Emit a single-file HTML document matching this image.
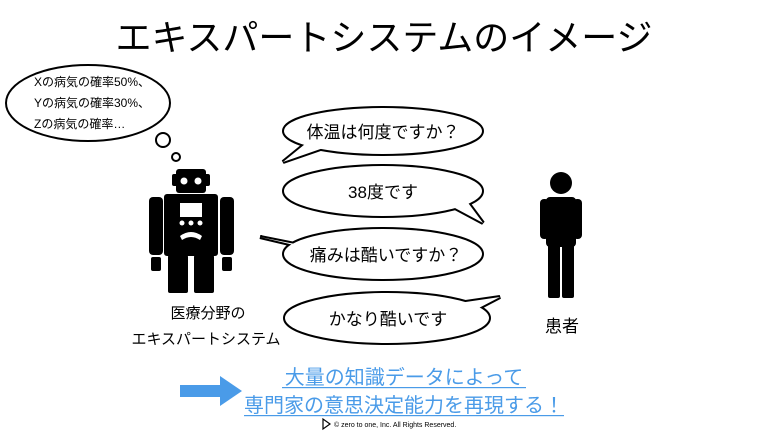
<!DOCTYPE html>
<html><head><meta charset="utf-8"><style>
html,body{margin:0;padding:0;background:#fff;}
svg{display:block;font-family:"Liberation Sans","Noto Sans CJK JP",sans-serif;}
</style></head><body>
<svg width="768" height="432" viewBox="0 0 768 432" xmlns="http://www.w3.org/2000/svg">
<defs>
<g id="b1"><ellipse cx="383" cy="131" rx="99" ry="23"/><path d="M310 140 L283 162 L332 145 Z"/></g>
<g id="b2"><ellipse cx="383" cy="191" rx="99" ry="25"/><path d="M440 200 L483 223 L466 200 Z"/></g>
<g id="b3"><ellipse cx="383" cy="254" rx="99" ry="25"/><path d="M300 245 L260 237 L315 250 Z"/></g>
<g id="b4"><ellipse cx="387" cy="318" rx="102" ry="25"/><path d="M445 305 L500 297 L475 310 Z"/></g>
</defs>
<rect width="768" height="432" fill="#fff"/>
<text x="384" y="50" font-size="36" text-anchor="middle" fill="#000">エキスパートシステムのイメージ</text>

<!-- thought bubble -->
<ellipse cx="88" cy="103" rx="82" ry="38" fill="#fff" stroke="#000" stroke-width="2"/>
<circle cx="163" cy="140" r="7" fill="#fff" stroke="#000" stroke-width="2"/>
<circle cx="176" cy="157" r="4" fill="#fff" stroke="#000" stroke-width="2"/>
<text x="34" y="86" font-size="12">Xの病気の確率50%、</text>
<text x="34" y="107" font-size="12">Yの病気の確率30%、</text>
<text x="34" y="128" font-size="12">Zの病気の確率…</text>

<!-- robot -->
<g fill="#000">
<rect x="176" y="169" width="30" height="24" rx="3"/>
<rect x="172" y="174" width="38" height="12" rx="2"/>
<rect x="164" y="194" width="54" height="62" rx="3"/>
<rect x="149" y="197" width="14" height="58" rx="4"/>
<rect x="220" y="197" width="14" height="58" rx="4"/>
<rect x="151" y="257" width="10" height="14" rx="2"/>
<rect x="222" y="257" width="10" height="14" rx="2"/>
<rect x="168" y="255" width="20" height="38" rx="2"/>
<rect x="194" y="255" width="20" height="38" rx="2"/>
</g>
<circle cx="184" cy="181" r="3.5" fill="#fff"/>
<circle cx="198" cy="181" r="3.5" fill="#fff"/>
<rect x="180" y="203" width="22" height="14" fill="#fff"/>
<circle cx="182" cy="223" r="2.5" fill="#fff"/>
<circle cx="191" cy="223" r="2.5" fill="#fff"/>
<circle cx="200" cy="223" r="2.5" fill="#fff"/>
<path d="M180 236 Q191 228 202 236 L200 240 Q191 234 182 240 Z" fill="#fff"/>

<!-- person -->
<g fill="#000">
<circle cx="561" cy="183" r="11"/>
<rect x="546" y="197" width="30" height="50" rx="4"/>
<rect x="540" y="199" width="9" height="40" rx="4"/>
<rect x="573" y="199" width="9" height="40" rx="4"/>
<rect x="548" y="240" width="12" height="58" rx="2"/>
<rect x="562" y="240" width="12" height="58" rx="2"/>
</g>

<!-- speech bubbles: outline via thick stroke then white fill -->
<g fill="#000" stroke="#000" stroke-width="4" stroke-linejoin="miter">
<use href="#b1"/><use href="#b2"/><use href="#b3"/><use href="#b4"/>
</g>
<g fill="#fff" stroke="none">
<use href="#b1"/><use href="#b2"/><use href="#b3"/><use href="#b4"/>
</g>
<text x="383" y="138" font-size="17" text-anchor="middle">体温は何度ですか？</text>
<text x="383" y="198" font-size="17" text-anchor="middle">38度です</text>
<text x="386" y="261" font-size="17" text-anchor="middle">痛みは酷いですか？</text>
<text x="388" y="325" font-size="17" text-anchor="middle">かなり酷いです</text>

<text x="208" y="318" font-size="15" text-anchor="middle">医療分野の</text>
<text x="206" y="344" font-size="15" text-anchor="middle">エキスパートシステム</text>
<text x="562" y="332" font-size="17" text-anchor="middle">患者</text>

<!-- arrow -->
<path d="M180 385 L220 385 L220 376 L242 391 L220 406 L220 397 L180 397 Z" fill="#4a9be8"/>
<g fill="#4a9be8" font-size="20" text-anchor="middle">
<text x="404" y="384">大量の知識データによって</text>
<text x="404" y="412">専門家の意思決定能力を再現する！</text>
</g>
<rect x="282" y="387" width="244" height="1.2" fill="#4a9be8"/>
<rect x="244" y="415" width="320" height="1.2" fill="#4a9be8"/>
<path d="M323 419 L323 429 L330 424 Z" fill="none" stroke="#000" stroke-width="1.2"/>
<text x="334" y="427" font-size="7">©  zero to one, Inc. All Rights Reserved.</text>
</svg>
</body></html>
